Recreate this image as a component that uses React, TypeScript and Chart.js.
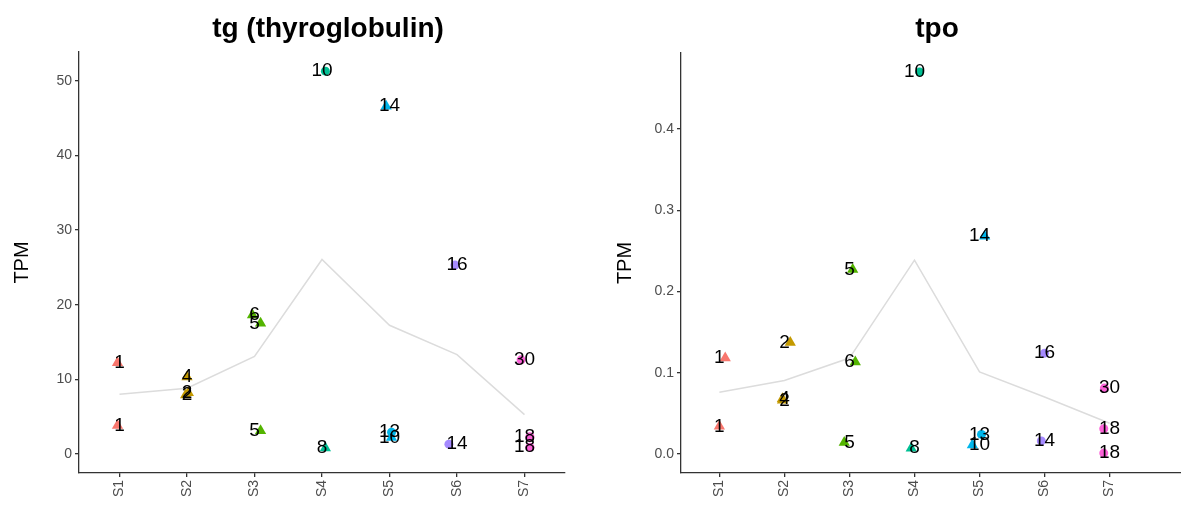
import React, { useEffect, useRef } from "react";
import { Chart, registerables } from "chart.js";
Chart.register(...registerables);

// ---- data ----
const categories = ["S1", "S2", "S3", "S4", "S5", "S6", "S7"];
const groupColors = ["#F8766D", "#C49A00", "#53B400", "#00C094", "#00B6EB", "#A58AFF", "#FB61D7"];
const sampleGroup = [0, 0, 1, 1, 1, 2, 2, 2, 3, 3, 4, 4, 4, 5, 5, 6, 6, 6];
const sampleLabels = ["1", "1", "4", "2", "2", "6", "5", "5", "10", "8", "14", "13", "10", "16", "14", "30", "18", "18"];
const sampleShapes = [
  "triangle", "triangle", "triangle", "triangle", "triangle", "triangle", "triangle", "triangle",
  "circle", "triangle", "triangle", "circle", "triangle", "circle", "circle", "circle", "circle", "circle",
];
const tgValues = [12.2, 3.8, 10.3, 8.2, 7.9, 18.6, 17.5, 3.1, 51.3, 0.8, 46.6, 2.9, 2.2, 25.3, 1.3, 12.6, 2.3, 0.9];
const tpoValues = [0.118, 0.034, 0.068, 0.137, 0.066, 0.113, 0.227, 0.014, 0.47, 0.007, 0.268, 0.024, 0.011, 0.124, 0.016, 0.081, 0.031, 0.001];
const tgJitter = [-0.03, -0.03, 0.0, 0.02, -0.02, -0.03, 0.09, 0.09, 0.05, 0.05, -0.05, 0.03, 0.03, -0.03, -0.12, -0.05, 0.08, 0.08];
const tpoJitter = [0.09, 0.0, -0.03, 0.09, -0.03, 0.09, 0.05, -0.08, 0.08, -0.05, 0.08, 0.03, -0.11, 0.0, -0.05, -0.08, -0.09, -0.09];
const tgTicks = [0, 10, 20, 30, 40, 50];
const tpoTicks = [0, 0.1, 0.2, 0.3, 0.4];

const FONT = '"Liberation Sans", Arial, Helvetica, sans-serif';
const AXIS = "#333333";

const panels = [
  {
    title: "tg (thyroglobulin)", values: tgValues, jitter: tgJitter, ticks: tgTicks,
    fmt: (v: number) => String(v), left: 0, width: 600, axisWidth: 79, padRight: 35, padTop: 52,
    xMin: -0.6, xMax: 6.6, titleX: 328, yTitlePad: 10,
  },
  {
    title: "tpo", values: tpoValues, jitter: tpoJitter, ticks: tpoTicks,
    fmt: (v: number) => v.toFixed(1), left: 600, width: 587, axisWidth: 81, padRight: 0, padTop: 53,
    xMin: -0.59, xMax: 7.09, titleX: 337, yTitlePad: 13,
  },
];

const annotate = {
  id: "annotate",
  afterDatasetsDraw(chart: any, _args: any, opts: any) {
    const ctx = chart.ctx;
    const xs = chart.scales.x;
    const ys = chart.scales.y;
    ctx.save();
    ctx.fillStyle = "#000";
    ctx.textAlign = "center";
    ctx.textBaseline = "middle";
    ctx.font = `19px ${FONT}`;
    (opts.values as number[]).forEach((v, i) => {
      ctx.fillText(sampleLabels[i], xs.getPixelForValue(sampleGroup[i]), ys.getPixelForValue(v));
    });
    ctx.font = `bold 28px ${FONT}`;
    ctx.textBaseline = "alphabetic";
    ctx.fillText(opts.title, opts.titleX, 37);
    ctx.restore();
  },
};

function Panel({ p }: { p: any }) {
  const ref = useRef<HTMLCanvasElement>(null);
  useEffect(() => {
    if (!ref.current) return;
    const vals: number[] = p.values;
    const lo = Math.min(0, ...vals);
    const hi = Math.max(...vals);
    const pad = (hi - lo) * 0.05;
    const pts = vals.map((v, i) => ({ x: sampleGroup[i] + p.jitter[i], y: v }));
    const means = categories.map((_, g) => {
      const vs = vals.filter((_, i) => sampleGroup[i] === g);
      return { x: g, y: vs.reduce((a, b) => a + b, 0) / vs.length };
    });
    const colors = sampleGroup.map((g) => groupColors[g]);
    const chart = new Chart(ref.current, {
      type: "scatter",
      data: {
        datasets: [
          {
            data: pts,
            pointStyle: sampleShapes as any,
            pointRadius: sampleShapes.map((s) => (s === "triangle" ? 6.5 : 4.5)),
            pointBackgroundColor: colors,
            pointBorderColor: colors,
            pointBorderWidth: 0,
          } as any,
          {
            type: "line",
            data: means,
            borderColor: "#DCDCDC",
            borderWidth: 1.5,
            pointRadius: 0,
            showLine: true,
            fill: false,
            tension: 0,
          } as any,
        ],
      },
      options: {
        responsive: false,
        animation: false,
        devicePixelRatio: 1,
        events: [],
        layout: { padding: { top: p.padTop, right: p.padRight, bottom: 0, left: 0 } },
        plugins: {
          legend: { display: false },
          tooltip: { enabled: false },
          annotate: { values: vals, title: p.title, titleX: p.titleX },
        } as any,
        scales: {
          x: {
            type: "linear",
            min: p.xMin,
            max: p.xMax,
            afterBuildTicks: (s: any) => {
              s.ticks = categories.map((_, i) => ({ value: i }));
            },
            afterFit: (s: any) => {
              s.height = 38;
              s.paddingLeft = 0;
              s.paddingRight = 0;
            },
            ticks: {
              callback: (v: any) => categories[Math.round(Number(v))],
              color: "#4D4D4D",
              font: { size: 14, family: FONT },
              maxRotation: 90,
              minRotation: 90,
              autoSkip: false,
              padding: 3,
            },
            grid: { drawOnChartArea: false, drawTicks: true, tickLength: 4, color: AXIS, lineWidth: 1.3 },
            border: { display: true, color: AXIS, width: 1.3 },
          },
          y: {
            type: "linear",
            min: lo - pad,
            max: hi + pad,
            afterBuildTicks: (s: any) => {
              s.ticks = p.ticks.map((v: number) => ({ value: v }));
            },
            afterFit: (s: any) => {
              s.width = p.axisWidth;
              s.paddingTop = 0;
              s.paddingBottom = 0;
            },
            ticks: {
              callback: (v: any) => p.fmt(Number(v)),
              color: "#4D4D4D",
              font: { size: 14, family: FONT },
              padding: 3,
            },
            title: {
              display: true,
              text: "TPM",
              color: "#000",
              font: { size: 20, family: FONT },
              padding: { top: p.yTitlePad, bottom: 0 },
            },
            grid: { drawOnChartArea: false, drawTicks: true, tickLength: 4, color: AXIS, lineWidth: 1.3 },
            border: { display: true, color: AXIS, width: 1.3 },
          },
        },
      } as any,
      plugins: [annotate as any],
    });
    return () => chart.destroy();
  }, [p]);
  return (
    <canvas
      ref={ref}
      width={p.width}
      height={511}
      style={{ position: "absolute", left: p.left, top: 0, width: p.width, height: 511 }}
    />
  );
}

export default function App() {
  return (
    <div style={{ position: "absolute", left: 0, top: 0, width: 1181, height: 511, background: "#fff", overflow: "hidden" }}>
      {panels.map((p, i) => (
        <Panel key={i} p={p} />
      ))}
    </div>
  );
}
